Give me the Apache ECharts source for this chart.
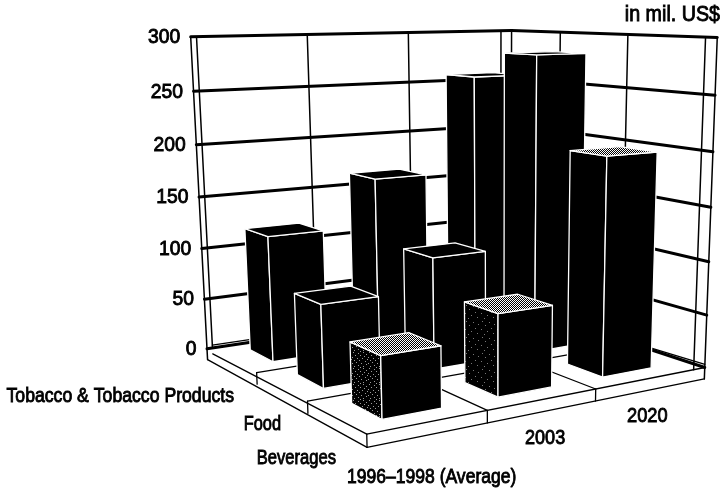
<!DOCTYPE html>
<html>
<head>
<meta charset="utf-8">
<style>html,body{margin:0;padding:0;background:#fff}#chart{width:722px;height:491px}</style>
<script src="https://cdn.jsdelivr.net/npm/echarts@6/dist/echarts.min.js"></script>
</head>
<body>
<div id="chart"></div>
<script>
// Chart values
const years = ['1996\u20131998 (Average)', '2003', '2020'];
const categories = ['Beverages', 'Food', 'Tobacco & Tobacco Products'];
const beverages = [54, 74, 200];
const food = [76, 105, 283];
const tobacco = [120, 165, 258];
const valueTicks = [0, 50, 100, 150, 200, 250, 300];
const unitLabel = 'in mil. US$';

// Camera calibration: world point [year axis, category axis, value] -> page pixel
const calibration = [
  [0,3,300,196,38],[0,3,150,204,196],[0,3,0,213,344.5],
  [-0.05,3,0,207,346],[-0.05,3,0,207,346],[-0.05,3,50,204,299],
  [3,3,300,501,30],[3,3,150,501,169],[3,3,0,501,312],
  [3,0,300,706,37],[3,0,150,698,207],[3,0,0,693,367],
  [0,0,0,367,437],[1,0,0,487,411],[2,0,0,596,389],
  [0,1,0,307,403],[0,2,0,257,375],
  [1,3,300,308,35],[2,3,300,409,33],[3,2,300,560,33],[3,1,300,628,35],
  [0.25,0.25,54,382,357],[0.25,0.25,0,383,420],[1.25,0.25,74,498,314],
  [2.25,0.25,200,607,157],[2.25,0.25,0,603,374],
  [0.25,1.25,76,320,304],[0.25,2.25,120,267,238]
];

// Least-squares fit of a 3x4 projective camera
function fitCamera(pts) {
  const n = 11, A = Array.from({length:n}, () => new Array(n + 1).fill(0));
  const add = (row, rhs) => {
    for (let i = 0; i < n; i++) {
      for (let j = 0; j < n; j++) A[i][j] += row[i] * row[j];
      A[i][n] += row[i] * rhs;
    }
  };
  pts.forEach(([u, v, w, x, y]) => {
    const z = w / 100;
    add([u,v,z,1,0,0,0,0,-x*u,-x*v,-x*z], x);
    add([0,0,0,0,u,v,z,1,-y*u,-y*v,-y*z], y);
  });
  for (let i = 0; i < n; i++) {
    let p = i;
    for (let r = i + 1; r < n; r++) if (Math.abs(A[r][i]) > Math.abs(A[p][i])) p = r;
    [A[i], A[p]] = [A[p], A[i]];
    for (let r = 0; r < n; r++) {
      if (r === i) continue;
      const f = A[r][i] / A[i][i];
      for (let c = i; c <= n; c++) A[r][c] -= f * A[i][c];
    }
  }
  return A.map((row, i) => row[n] / row[i]);
}
const cam = fitCamera(calibration);
function project(u, v, w) {
  const z = w / 100, d = cam[8]*u + cam[9]*v + cam[10]*z + 1;
  return [(cam[0]*u + cam[1]*v + cam[2]*z + cam[3]) / d,
          (cam[4]*u + cam[5]*v + cam[6]*z + cam[7]) / d];
}

// Frame proportions in world units
const LEFT_LIP = 0.05, RIGHT_LIP = 0.12, SLAB = 11, BAR_GAP = 0.25;

// Fill patterns for the lit faces
function tile(size, ink, dots) {
  const c = document.createElement('canvas');
  c.width = c.height = size;
  const g = c.getContext('2d');
  g.fillStyle = '#000'; g.fillRect(0, 0, size, size);
  g.fillStyle = ink;
  dots.forEach(p => g.fillRect(p[0], p[1], 1, 1));
  return {type: 'pattern', image: c, repeat: 'repeat'};
}
const halftone = tile(2, '#fff', [[0,0],[1,1]]);
const grainHeavy = tile(16, '#9a9a9a', [[1,0],[6,1],[11,0],[14,2],[3,3],[8,3],[12,4],[0,5],[5,6],[10,6],
  [15,7],[2,8],[7,8],[13,9],[4,10],[9,11],[0,11],[14,12],[6,13],[11,14],[2,14],[8,15]]);
const grainLight = tile(16, '#777', [[2,1],[9,2],[14,4],[5,5],[11,8],[1,9],[7,11],[13,13],[4,14]]);

const line = (a, b, width) => ({
  type: 'line', silent: true,
  shape: {x1: a[0], y1: a[1], x2: b[0], y2: b[1]},
  style: {stroke: '#000', lineWidth: width, lineCap: 'round'}
});
const seg = (a, b, width) => line(project(...a), project(...b), width);
// Tall, narrow lettering: a large face squeezed horizontally
const label = (text, x, y, align, size, squeeze) => ({
  type: 'text', silent: true, x, y, scaleX: squeeze,
  style: {text, x: 0, y: 0, align: align, verticalAlign: 'middle', fill: '#000',
          fontFamily: 'Liberation Sans', fontSize: size,
          stroke: '#000', lineWidth: 0.9}
});

function renderFrame() {
  const uR = 3 + RIGHT_LIP, uL = -LEFT_LIP, kids = [];
  // white floor and walls
  const poly = pts => ({type: 'polygon', silent: true,
    shape: {points: pts.map(p => project(...p))}, style: {fill: '#fff'}});
  kids.push(poly([[uL,3,300],[uR,3,300],[uR,0,300],[uR,0,-SLAB],[0,0,-SLAB],[uL,3,-SLAB]]));
  // wall uprights
  [0, 1, 2, 3].forEach(k => kids.push(seg([k,3,300],[k,3,0],1.5)));
  [1, 2].forEach(k => kids.push(seg([3,k,300],[3,k,0],1.5)));
  kids.push(seg([3,0,300],[3,0,0],1.5));
  kids.push(seg([uL,3,300],[uL,3,-SLAB],1.5));
  kids.push(seg([uR,3,300],[uR,3,150],1.5));
  kids.push(seg([uR,0,300],[uR,0,-SLAB],1.5));
  // floor divisions
  [1, 2].forEach(k => {
    kids.push(seg([k,0,0],[k,3,0],1.3));
    kids.push(seg([0,k,0],[3,k,0],1.3));
    kids.push(seg([k,0,0],[k,0,-SLAB],1.3));
    kids.push(seg([0,k,0],[0,k,-SLAB],1.3));
  });
  // thin floor edge along the walls
  kids.push(seg([0,3,3],[3,3,3],1.2));
  kids.push(seg([3,3,3],[uR,0,3],1.2));
  // slab outline
  kids.push(seg([0,3,-6],[0,0,0],1.3));
  kids.push(seg([uL,3,-SLAB],[0,0,-SLAB],1.3));
  kids.push(seg([0,0,0],[uR,0,0],1.3));
  kids.push(seg([0,0,-SLAB],[uR,0,-SLAB],1.3));
  kids.push(seg([0,0,0],[0,0,-SLAB],1.3));
  return {type: 'group', children: kids};
}

function renderGridLevel(params, api) {
  const cs = params.coordSys;
  const w = (cs.y + cs.height - api.coord([0, api.value(1)])[1]) / cs.height * 300;
  const uR = 3 + RIGHT_LIP, uL = -LEFT_LIP;
  const start = project(uL, 3, w);
  return {type: 'group', children: [
    line(start, project(uR, 3, w), 3),
    line(project(uR, 3, w), project(uR, 0, w), 3),
    label(String(api.value(1)), start[0] - 10.5, start[1] + 0.5, 'right', 21, 0.92)
  ]};
}

function renderBar(params, api) {
  const cs = params.coordSys;
  const yr = api.value(0), row = api.value(2), val = api.value(1);
  const u0 = (api.coord([yr, 0])[0] - cs.x) / cs.width * 3 - 0.5;
  const top = (cs.y + cs.height - api.coord([yr, val])[1]) / cs.height * 300;
  const a = u0 + BAR_GAP, b = u0 + 1 - BAR_GAP;
  const c = row + BAR_GAP, d = row + 1 - BAR_GAP;
  const face = (pts, fill) => ({
    type: 'polygon', silent: true,
    shape: {points: pts.map(p => project(...p))},
    style: {fill, stroke: '#fff', lineWidth: 1.3, lineJoin: 'round'}
  });
  const frontRow = row === 0;
  const leftFill = !frontRow || yr === 2 ? '#000' : (yr === 0 ? grainHeavy : grainLight);
  return {type: 'group', children: [
    face([[a,c,0],[a,d,0],[a,d,top],[a,c,top]], leftFill),
    face([[a,c,0],[b,c,0],[b,c,top],[a,c,top]], '#000'),
    face([[a,c,top],[b,c,top],[b,d,top],[a,d,top]], frontRow ? halftone : '#000')
  ]};
}

function renderText() {
  const kids = [
    label(unitLabel, 720, 15, 'right', 22, 0.895),
    label(categories[2], 234, 396, 'right', 21, 0.84),
    label(categories[1], 281, 424, 'right', 21, 0.78),
    label(categories[0], 336, 458, 'right', 21, 0.79),
    label(years[0], 347, 477, 'left', 21, 0.835),
    label(years[1], 525, 438, 'left', 21, 0.86),
    label(years[2], 627, 416, 'left', 21, 0.87)
  ];
  return {type: 'group', children: kids};
}

// Painted far row first, latest year first, so nearer boxes cover farther ones
const barData = [];
[beverages, food, tobacco].map((vals, row) => ({vals, row})).reverse().forEach(({vals, row}) => {
  [2, 1, 0].forEach(yr => barData.push([yr, vals[yr], row]));
});

const chart = echarts.init(document.getElementById('chart'));
chart.setOption({
  animation: false,
  backgroundColor: '#fff',
  grid: {left: 0, right: 0, top: 0, bottom: 0},
  xAxis: {type: 'category', data: years, show: false},
  yAxis: {type: 'value', min: 0, max: 300, interval: 50, show: false},
  series: [
    {type: 'custom', name: 'frame', data: [[0, 0]], renderItem: renderFrame, silent: true, z: 1},
    {type: 'custom', name: 'levels', data: valueTicks.map(t => [0, t]), renderItem: renderGridLevel, silent: true, z: 2},
    {type: 'custom', name: 'bars', data: barData, encode: {x: 0, y: 1}, renderItem: renderBar, silent: true, z: 3},
    {type: 'custom', name: 'labels', data: [[0, 0]], renderItem: renderText, silent: true, z: 4}
  ]
});
</script>
</body>
</html>
